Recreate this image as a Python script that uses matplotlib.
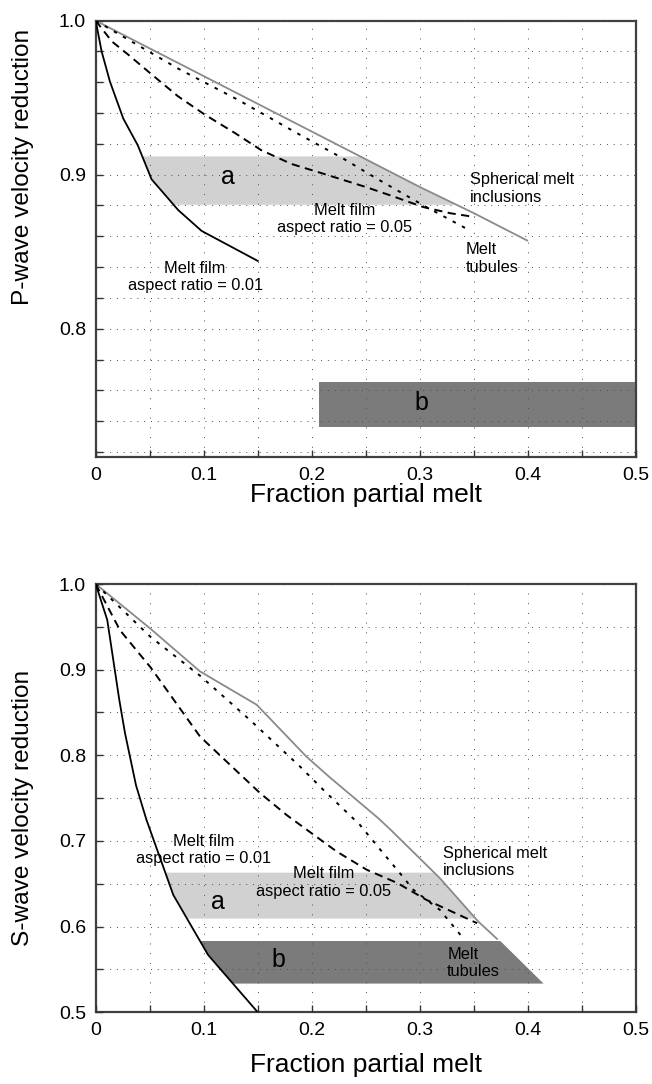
import numpy as np
import matplotlib
matplotlib.use("Agg")
import matplotlib.pyplot as plt

plt.rcParams['font.family'] = ['Liberation Sans', 'DejaVu Sans']

# ---------------- data: P-wave panel ----------------
p_film01_x = [0, 0.0055, 0.0132, 0.0255, 0.039, 0.0517, 0.0764, 0.098, 0.150]
p_film01_y = [1.0, 0.980, 0.9604, 0.9365, 0.919, 0.897, 0.877, 0.8635, 0.844]

p_film05_x = [0, 0.015, 0.03, 0.052, 0.076, 0.101, 0.129, 0.153, 0.181, 0.209,
              0.25, 0.275, 0.303, 0.328, 0.351]
p_film05_y = [1.0, 0.9865, 0.978, 0.965, 0.951, 0.939, 0.927, 0.916, 0.907, 0.901,
              0.892, 0.886, 0.879, 0.875, 0.8725]

p_tube_x = [0, 0.076, 0.132, 0.187, 0.229, 0.26, 0.2816, 0.306, 0.343]
p_tube_y = [1.0, 0.969, 0.9485, 0.9267, 0.9105, 0.8975, 0.8888, 0.879, 0.865]

p_sph_x = [0, 0.05, 0.1, 0.15, 0.2, 0.25, 0.3, 0.35, 0.4]
p_sph_y = [1.0, 0.982, 0.964, 0.946, 0.928, 0.910, 0.892, 0.875, 0.857]

p_band_a = (0.8808, 0.9122)          # velocity range of band a
p_band_b = (0.7359, 0.7654)          # velocity range of band b
p_band_b_x = (0.207, 0.5)

# ---------------- data: S-wave panel ----------------
s_film01_x = [0, 0.0107, 0.0218, 0.0271, 0.0373, 0.047, 0.0718, 0.104, 0.150]
s_film01_y = [1.0, 0.958, 0.865, 0.826, 0.765, 0.7246, 0.637, 0.567, 0.500]

s_film05_x = [0, 0.0225, 0.0512, 0.0965, 0.152, 0.177, 0.223, 0.251, 0.279, 0.306, 0.353]
s_film05_y = [1.0, 0.946, 0.902, 0.822, 0.756, 0.730, 0.6877, 0.6663, 0.651, 0.6313, 0.604]

s_tube_x = [0, 0.0505, 0.0965, 0.143, 0.189, 0.212, 0.2445, 0.266, 0.279, 0.294, 0.3185, 0.340]
s_tube_y = [1.0, 0.9385, 0.893, 0.841, 0.787, 0.758, 0.7188, 0.6858, 0.6663, 0.643, 0.6196, 0.5866]

s_sph_x = [0, 0.0505, 0.0965, 0.149, 0.195, 0.216, 0.2615, 0.273, 0.3185, 0.354, 0.372]
s_sph_y = [1.0, 0.948, 0.898, 0.859, 0.7985, 0.775, 0.7266, 0.713, 0.6566, 0.606, 0.585]

s_band_a = (0.6100, 0.6636)
s_band_b = (0.5341, 0.5838)
s_band_b_right_x = (0.414, 0.374)    # right edge x at bottom / top of band b

x_ticks = [0, 0.1, 0.2, 0.3, 0.4, 0.5]
x_tick_labels = ['0', '0.1', '0.2', '0.3', '0.4', '0.5']
p_yticks = [0.8, 0.9, 1.0]
p_ytick_labels = ['0.8', '0.9', '1.0']
s_yticks = [0.5, 0.6, 0.7, 0.8, 0.9, 1.0]
s_ytick_labels = ['0.5', '0.6', '0.7', '0.8', '0.9', '1.0']

LIGHT = '#d1d1d1'
DARK = '#7b7b7b'
GRAYLINE = '#8a8a8a'
ANN = 11.8


def curve_x_at(ys, cx, cy):
    return np.interp(ys, np.asarray(cy)[::-1], np.asarray(cx)[::-1])


def style_axes(ax, ylim, yticks, ylabels, yminor_step, ylabel, ylabel_y, xlabel_y):
    ax.set_xlim(0, 0.5)
    ax.set_ylim(*ylim)
    ax.set_xticks(x_ticks)
    ax.set_xticklabels(x_tick_labels)
    ax.set_xticks(np.arange(0.05, 0.5, 0.1), minor=True)
    ax.set_yticks(yticks)
    ax.set_yticklabels(ylabels)
    ymin = np.arange(ylim[1], ylim[0], -yminor_step)
    ymin = [v for v in ymin if all(abs(v - t) > 1e-6 for t in yticks) and v > ylim[0] + 1e-3]
    ax.set_yticks(ymin, minor=True)
    ax.tick_params(which='both', direction='in', length=5, width=1.0, color='0.2',
                   top=False, right=False, labelsize=14, pad=7)
    ax.grid(True, which='both', axis='x', color='0.3', lw=0.7, linestyle=(0, (1, 9)))
    ax.grid(True, which='both', axis='y', color='0.3', lw=0.7, linestyle=(0, (1, 6)))
    ax.set_axisbelow(False)
    for sp in ax.spines.values():
        sp.set_linewidth(1.6)
        sp.set_color('0.25')
    ax.set_xlabel('Fraction partial melt', fontsize=19)
    ax.xaxis.label.set_va('baseline')
    ax.xaxis.set_label_coords(0.5, xlabel_y)
    ax.set_ylabel(ylabel, fontsize=17.6)
    ax.yaxis.set_label_coords(-0.114, ylabel_y)


def draw_curves(ax, f01, f05, tube, sph):
    ax.plot(*sph, color=GRAYLINE, lw=1.3, zorder=3, solid_capstyle='butt')
    ax.plot(*tube, color='black', lw=1.4, zorder=3, linestyle=(0, (1.8, 3.6)))
    ax.plot(*f05, color='black', lw=1.4, zorder=3, linestyle=(0, (4.2, 2.8)))
    ax.plot(*f01, color='black', lw=1.3, zorder=3)


fig = plt.figure(figsize=(6.52, 10.84), dpi=100)

# ---------------- top panel ----------------
ax1 = fig.add_axes([0.14678, 0.57814, 0.82868, 0.40277])
ys = np.linspace(*p_band_a, 60)
ax1.fill_betweenx(ys, curve_x_at(ys, p_film01_x, p_film01_y),
                  curve_x_at(ys, p_sph_x, p_sph_y), color=LIGHT, lw=0, zorder=1)
ax1.fill_betweenx(list(p_band_b), p_band_b_x[0], p_band_b_x[1], color=DARK, lw=0, zorder=1)
draw_curves(ax1, (p_film01_x, p_film01_y), (p_film05_x, p_film05_y),
            (p_tube_x, p_tube_y), (p_sph_x, p_sph_y))
style_axes(ax1, (0.7165, 1.0), p_yticks, p_ytick_labels, 0.02,
           'P-wave velocity reduction', 0.666, -0.1024)

ax1.text(0.1227, 0.8988, 'a', fontsize=18, ha='center', va='center', zorder=4)
ax1.text(0.301, 0.752, 'b', fontsize=18, ha='center', va='center', zorder=4)
ax1.text(0.092, 0.8335, 'Melt film\naspect ratio = 0.01', fontsize=ANN,
         ha='center', va='center', linespacing=1.2, zorder=4)
ax1.text(0.2306, 0.8712, 'Melt film\naspect ratio = 0.05', fontsize=ANN,
         ha='center', va='center', linespacing=1.2, zorder=4)
ax1.text(0.3463, 0.891, 'Spherical melt\ninclusions', fontsize=ANN,
         ha='left', va='center', linespacing=1.2, zorder=4)
ax1.text(0.3426, 0.8455, 'Melt\ntubules', fontsize=ANN,
         ha='left', va='center', linespacing=1.2, zorder=4)

# ---------------- bottom panel ----------------
ax2 = fig.add_axes([0.14678, 0.06614, 0.82868, 0.39511])
ys = np.linspace(*s_band_a, 60)
ax2.fill_betweenx(ys, curve_x_at(ys, s_film01_x, s_film01_y),
                  curve_x_at(ys, s_sph_x, s_sph_y), color=LIGHT, lw=0, zorder=1)
ys = np.linspace(*s_band_b, 60)
ax2.fill_betweenx(ys, curve_x_at(ys, s_film01_x, s_film01_y),
                  np.interp(ys, list(s_band_b), list(s_band_b_right_x)),
                  color=DARK, lw=0, zorder=1)
draw_curves(ax2, (s_film01_x, s_film01_y), (s_film05_x, s_film05_y),
            (s_tube_x, s_tube_y), (s_sph_x, s_sph_y))
style_axes(ax2, (0.5, 1.0), s_yticks, s_ytick_labels, 0.05,
           'S-wave velocity reduction', 0.477, -0.139)

ax2.text(0.1134, 0.6293, 'a', fontsize=18, ha='center', va='center', zorder=4)
ax2.text(0.169, 0.5613, 'b', fontsize=18, ha='center', va='center', zorder=4)
ax2.text(0.0996, 0.6898, 'Melt film\naspect ratio = 0.01', fontsize=ANN,
         ha='center', va='center', linespacing=1.2, zorder=4)
ax2.text(0.211, 0.6515, 'Melt film\naspect ratio = 0.05', fontsize=ANN,
         ha='center', va='center', linespacing=1.2, zorder=4)
ax2.text(0.321, 0.6753, 'Spherical melt\ninclusions', fontsize=ANN,
         ha='left', va='center', linespacing=1.2, zorder=4)
ax2.text(0.3253, 0.5574, 'Melt\ntubules', fontsize=ANN,
         ha='left', va='center', linespacing=1.2, zorder=4)

fig.savefig('out.png', dpi=100)
